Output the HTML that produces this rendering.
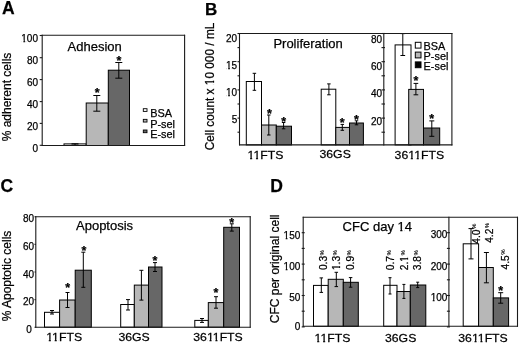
<!DOCTYPE html>
<html><head><meta charset="utf-8"><style>
html,body{margin:0;padding:0;background:#fff;overflow:hidden;}
svg{display:block;}
text{font-family:"Liberation Sans",sans-serif;fill:#000;stroke:#000;stroke-width:0.25px;}
</style></head><body>
<svg width="520" height="344" viewBox="0 0 520 344">
<rect width="520" height="344" fill="#fff"/>
<g opacity="0.999">
<text x="2.0" y="13.9" font-size="17.5" text-anchor="start" font-weight="bold" >A</text>
<text x="205.0" y="14.7" font-size="17" text-anchor="start" font-weight="bold" >B</text>
<text x="0.6" y="191.8" font-size="17.5" text-anchor="start" font-weight="bold" >C</text>
<text x="270.2" y="191.7" font-size="17.5" text-anchor="start" font-weight="bold" >D</text>
<rect x="64" y="143.9" width="22.20" height="1.60" fill="#ffffff" stroke="#000000" stroke-width="1.0"/>
<line x1="75" y1="143.8" x2="75" y2="145.2" stroke="#000000" stroke-width="1.0"/>
<line x1="71.5" y1="143.8" x2="78.5" y2="143.8" stroke="#000000" stroke-width="1.0"/>
<line x1="71.5" y1="145.2" x2="78.5" y2="145.2" stroke="#000000" stroke-width="1.0"/>
<rect x="86.2" y="103" width="22.10" height="42.50" fill="#b7b7b7" stroke="#000000" stroke-width="1.0"/>
<line x1="96.8" y1="95.5" x2="96.8" y2="111.2" stroke="#000000" stroke-width="1.0"/>
<line x1="93.3" y1="95.5" x2="100.3" y2="95.5" stroke="#000000" stroke-width="1.0"/>
<line x1="93.3" y1="111.2" x2="100.3" y2="111.2" stroke="#000000" stroke-width="1.0"/>
<text x="97.3" y="97.4125" font-size="12.5" text-anchor="middle" font-weight="bold" >*</text>
<rect x="108.3" y="70.2" width="21.20" height="75.30" fill="#676767" stroke="#000000" stroke-width="1.0"/>
<line x1="118.8" y1="62.5" x2="118.8" y2="78.2" stroke="#000000" stroke-width="1.0"/>
<line x1="115.3" y1="62.5" x2="122.3" y2="62.5" stroke="#000000" stroke-width="1.0"/>
<line x1="115.3" y1="78.2" x2="122.3" y2="78.2" stroke="#000000" stroke-width="1.0"/>
<text x="118.9" y="64.9125" font-size="12.5" text-anchor="middle" font-weight="bold" >*</text>
<line x1="42.2" y1="34.7" x2="42.2" y2="146.0" stroke="#1a1a1a" stroke-width="1.1"/>
<line x1="41.7" y1="35.2" x2="185.1" y2="35.2" stroke="#1a1a1a" stroke-width="1.1"/>
<line x1="184.6" y1="34.7" x2="184.6" y2="146.0" stroke="#1a1a1a" stroke-width="1.1"/>
<line x1="41.7" y1="145.5" x2="185.1" y2="145.5" stroke="#1a1a1a" stroke-width="1.1"/>
<line x1="39.7" y1="35.5" x2="42.2" y2="35.5" stroke="#1a1a1a" stroke-width="1.1"/>
<text x="38.0" y="41.8" font-size="10" text-anchor="end" font-weight="normal" >100</text>
<rect x="21.59" y="39.75" width="1.73" height="3.45" fill="#fff"/>
<rect x="25.21" y="39.75" width="1.65" height="3.45" fill="#fff"/>
<line x1="39.7" y1="57.7" x2="42.2" y2="57.7" stroke="#1a1a1a" stroke-width="1.1"/>
<text x="38.0" y="63.9" font-size="10" text-anchor="end" font-weight="normal" >80</text>
<line x1="39.7" y1="79.6" x2="42.2" y2="79.6" stroke="#1a1a1a" stroke-width="1.1"/>
<text x="38.0" y="86.0" font-size="10" text-anchor="end" font-weight="normal" >60</text>
<line x1="39.7" y1="101.6" x2="42.2" y2="101.6" stroke="#1a1a1a" stroke-width="1.1"/>
<text x="38.0" y="108.10000000000001" font-size="10" text-anchor="end" font-weight="normal" >40</text>
<line x1="39.7" y1="123.4" x2="42.2" y2="123.4" stroke="#1a1a1a" stroke-width="1.1"/>
<text x="38.0" y="130.2" font-size="10" text-anchor="end" font-weight="normal" >20</text>
<line x1="39.7" y1="145.3" x2="42.2" y2="145.3" stroke="#1a1a1a" stroke-width="1.1"/>
<text x="38.0" y="152.3" font-size="10" text-anchor="end" font-weight="normal" >0</text>
<text x="67.6" y="51.1" font-size="13" text-anchor="start" font-weight="normal" >Adhesion</text>
<rect x="143.3" y="108.7" width="3.70" height="2.70" fill="#ffffff" stroke="#000000" stroke-width="0.9"/>
<text x="150.2" y="117.0" font-size="10.9" text-anchor="start" font-weight="normal" >BSA</text>
<rect x="143.3" y="119.35000000000001" width="3.70" height="2.70" fill="#b7b7b7" stroke="#000000" stroke-width="0.9"/>
<text x="150.2" y="127.65" font-size="10.9" text-anchor="start" font-weight="normal" >P-sel</text>
<rect x="143.3" y="130.0" width="3.70" height="2.70" fill="#676767" stroke="#000000" stroke-width="0.9"/>
<text x="150.2" y="138.3" font-size="10.9" text-anchor="start" font-weight="normal" >E-sel</text>
<text x="0" y="0" font-size="12" text-anchor="middle"  transform="translate(11.0 97.0) rotate(-90)">% adherent cells</text>
<rect x="246.3" y="81.5" width="15.20" height="63.40" fill="#ffffff" stroke="#000000" stroke-width="1.0"/>
<line x1="254.4" y1="73.3" x2="254.4" y2="90.3" stroke="#000000" stroke-width="1.0"/>
<line x1="252.65" y1="73.3" x2="256.15" y2="73.3" stroke="#000000" stroke-width="1.0"/>
<line x1="252.65" y1="90.3" x2="256.15" y2="90.3" stroke="#000000" stroke-width="1.0"/>
<rect x="261.5" y="125" width="14.80" height="19.90" fill="#b7b7b7" stroke="#000000" stroke-width="1.0"/>
<line x1="268.8" y1="115" x2="268.8" y2="135" stroke="#000000" stroke-width="1.0"/>
<line x1="267.05" y1="115" x2="270.55" y2="115" stroke="#000000" stroke-width="1.0"/>
<line x1="267.05" y1="135" x2="270.55" y2="135" stroke="#000000" stroke-width="1.0"/>
<text x="269.4" y="118.2125" font-size="12.5" text-anchor="middle" font-weight="bold" >*</text>
<rect x="276.3" y="126.2" width="15.20" height="18.70" fill="#676767" stroke="#000000" stroke-width="1.0"/>
<line x1="283.6" y1="122.5" x2="283.6" y2="128.8" stroke="#000000" stroke-width="1.0"/>
<line x1="281.85" y1="122.5" x2="285.35" y2="122.5" stroke="#000000" stroke-width="1.0"/>
<line x1="281.85" y1="128.8" x2="285.35" y2="128.8" stroke="#000000" stroke-width="1.0"/>
<text x="283.8" y="126.3125" font-size="12.5" text-anchor="middle" font-weight="bold" >*</text>
<rect x="321.2" y="89.2" width="14.60" height="55.70" fill="#ffffff" stroke="#000000" stroke-width="1.0"/>
<line x1="328.9" y1="83.9" x2="328.9" y2="94.8" stroke="#000000" stroke-width="1.0"/>
<line x1="327.15" y1="83.9" x2="330.65" y2="83.9" stroke="#000000" stroke-width="1.0"/>
<line x1="327.15" y1="94.8" x2="330.65" y2="94.8" stroke="#000000" stroke-width="1.0"/>
<rect x="335.8" y="127.4" width="13.70" height="17.50" fill="#b7b7b7" stroke="#000000" stroke-width="1.0"/>
<line x1="342.3" y1="124.4" x2="342.3" y2="130.3" stroke="#000000" stroke-width="1.0"/>
<line x1="340.55" y1="124.4" x2="344.05" y2="124.4" stroke="#000000" stroke-width="1.0"/>
<line x1="340.55" y1="130.3" x2="344.05" y2="130.3" stroke="#000000" stroke-width="1.0"/>
<text x="342.1" y="126.5125" font-size="12.5" text-anchor="middle" font-weight="bold" >*</text>
<rect x="349.5" y="123" width="13.90" height="21.90" fill="#676767" stroke="#000000" stroke-width="1.0"/>
<line x1="356.5" y1="120.8" x2="356.5" y2="124.8" stroke="#000000" stroke-width="1.0"/>
<line x1="354.75" y1="120.8" x2="358.25" y2="120.8" stroke="#000000" stroke-width="1.0"/>
<line x1="354.75" y1="124.8" x2="358.25" y2="124.8" stroke="#000000" stroke-width="1.0"/>
<text x="356.5" y="124.0125" font-size="12.5" text-anchor="middle" font-weight="bold" >*</text>
<rect x="395.1" y="44.9" width="15.90" height="100.00" fill="#ffffff" stroke="#000000" stroke-width="1.0"/>
<line x1="402.8" y1="33.6" x2="402.8" y2="55.5" stroke="#000000" stroke-width="1.0"/>
<line x1="400.45" y1="33.6" x2="405.15000000000003" y2="33.6" stroke="#000000" stroke-width="1.0"/>
<line x1="400.45" y1="55.5" x2="405.15000000000003" y2="55.5" stroke="#000000" stroke-width="1.0"/>
<rect x="408.7" y="89.4" width="14.80" height="55.50" fill="#b7b7b7" stroke="#000000" stroke-width="1.0"/>
<line x1="415.9" y1="83.4" x2="415.9" y2="94.8" stroke="#000000" stroke-width="1.0"/>
<line x1="413.54999999999995" y1="83.4" x2="418.25" y2="83.4" stroke="#000000" stroke-width="1.0"/>
<line x1="413.54999999999995" y1="94.8" x2="418.25" y2="94.8" stroke="#000000" stroke-width="1.0"/>
<text x="415.9" y="85.4125" font-size="12.5" text-anchor="middle" font-weight="bold" >*</text>
<rect x="423.5" y="128" width="16.20" height="16.90" fill="#676767" stroke="#000000" stroke-width="1.0"/>
<line x1="431.8" y1="120.9" x2="431.8" y2="136.3" stroke="#000000" stroke-width="1.0"/>
<line x1="429.3" y1="120.9" x2="434.3" y2="120.9" stroke="#000000" stroke-width="1.0"/>
<line x1="429.3" y1="136.3" x2="434.3" y2="136.3" stroke="#000000" stroke-width="1.0"/>
<text x="431.8" y="122.6125" font-size="12.5" text-anchor="middle" font-weight="bold" >*</text>
<line x1="239.5" y1="33.0" x2="239.5" y2="145.4" stroke="#1a1a1a" stroke-width="1.1"/>
<line x1="239.0" y1="33.5" x2="452.4" y2="33.5" stroke="#1a1a1a" stroke-width="1.1"/>
<line x1="451.9" y1="33.0" x2="451.9" y2="145.4" stroke="#1a1a1a" stroke-width="1.1"/>
<line x1="239.0" y1="144.9" x2="452.4" y2="144.9" stroke="#1a1a1a" stroke-width="1.1"/>
<line x1="383.8" y1="33.0" x2="383.8" y2="145.4" stroke="#1a1a1a" stroke-width="1.1"/>
<line x1="237.5" y1="33.5" x2="239.5" y2="33.5" stroke="#1a1a1a" stroke-width="1.1"/>
<line x1="381.5" y1="33.5" x2="385.0" y2="33.5" stroke="#1a1a1a" stroke-width="1.1"/>
<line x1="237.5" y1="47.6" x2="239.5" y2="47.6" stroke="#1a1a1a" stroke-width="1.1"/>
<line x1="381.5" y1="47.6" x2="385.0" y2="47.6" stroke="#1a1a1a" stroke-width="1.1"/>
<line x1="237.5" y1="61.7" x2="239.5" y2="61.7" stroke="#1a1a1a" stroke-width="1.1"/>
<line x1="381.5" y1="61.7" x2="385.0" y2="61.7" stroke="#1a1a1a" stroke-width="1.1"/>
<line x1="237.5" y1="75.8" x2="239.5" y2="75.8" stroke="#1a1a1a" stroke-width="1.1"/>
<line x1="381.5" y1="75.8" x2="385.0" y2="75.8" stroke="#1a1a1a" stroke-width="1.1"/>
<line x1="237.5" y1="89.9" x2="239.5" y2="89.9" stroke="#1a1a1a" stroke-width="1.1"/>
<line x1="381.5" y1="89.9" x2="385.0" y2="89.9" stroke="#1a1a1a" stroke-width="1.1"/>
<line x1="237.5" y1="104.0" x2="239.5" y2="104.0" stroke="#1a1a1a" stroke-width="1.1"/>
<line x1="381.5" y1="104.0" x2="385.0" y2="104.0" stroke="#1a1a1a" stroke-width="1.1"/>
<line x1="237.5" y1="118.1" x2="239.5" y2="118.1" stroke="#1a1a1a" stroke-width="1.1"/>
<line x1="381.5" y1="118.1" x2="385.0" y2="118.1" stroke="#1a1a1a" stroke-width="1.1"/>
<line x1="237.5" y1="132.2" x2="239.5" y2="132.2" stroke="#1a1a1a" stroke-width="1.1"/>
<line x1="381.5" y1="132.2" x2="385.0" y2="132.2" stroke="#1a1a1a" stroke-width="1.1"/>
<text x="237.2" y="42.0" font-size="10" text-anchor="end" font-weight="normal" >20</text>
<text x="237.2" y="68.6" font-size="10" text-anchor="end" font-weight="normal" >15</text>
<rect x="226.36" y="66.55" width="1.73" height="3.45" fill="#fff"/>
<rect x="229.97" y="66.55" width="1.65" height="3.45" fill="#fff"/>
<text x="237.2" y="95.8" font-size="10" text-anchor="end" font-weight="normal" >10</text>
<rect x="226.36" y="93.75" width="1.73" height="3.45" fill="#fff"/>
<rect x="229.97" y="93.75" width="1.65" height="3.45" fill="#fff"/>
<text x="237.2" y="122.6" font-size="10" text-anchor="end" font-weight="normal" >5</text>
<text x="382.0" y="42.8" font-size="10" text-anchor="end" font-weight="normal" >80</text>
<text x="382.0" y="69.7" font-size="10" text-anchor="end" font-weight="normal" >60</text>
<text x="382.0" y="96.8" font-size="10" text-anchor="end" font-weight="normal" >40</text>
<text x="382.0" y="124.7" font-size="10" text-anchor="end" font-weight="normal" >20</text>
<text x="273.4" y="47.9" font-size="13" text-anchor="start" font-weight="normal" >Proliferation</text>
<text x="0" y="0" font-size="11.8" transform="translate(247.5 159.0) scale(1.04 1)">11FTS</text>
<rect x="0.41" y="-2.18" width="2.05" height="3.58" fill="#fff" transform="translate(247.5 159.0) scale(1.04 1)"/>
<rect x="4.51" y="-2.18" width="1.96" height="3.58" fill="#fff" transform="translate(247.5 159.0) scale(1.04 1)"/>
<rect x="6.08" y="-2.18" width="2.05" height="3.58" fill="#fff" transform="translate(247.5 159.0) scale(1.04 1)"/>
<rect x="10.18" y="-2.18" width="1.96" height="3.58" fill="#fff" transform="translate(247.5 159.0) scale(1.04 1)"/>
<text x="0" y="0" font-size="11.8" transform="translate(319.5 158.2) scale(1.04 1)">36GS</text>
<text x="0" y="0" font-size="11.8" transform="translate(394.6 159.0) scale(1.04 1)">3611FTS</text>
<rect x="13.51" y="-2.18" width="2.05" height="3.58" fill="#fff" transform="translate(394.6 159.0) scale(1.04 1)"/>
<rect x="17.61" y="-2.18" width="1.96" height="3.58" fill="#fff" transform="translate(394.6 159.0) scale(1.04 1)"/>
<rect x="19.18" y="-2.18" width="2.05" height="3.58" fill="#fff" transform="translate(394.6 159.0) scale(1.04 1)"/>
<rect x="23.27" y="-2.18" width="1.96" height="3.58" fill="#fff" transform="translate(394.6 159.0) scale(1.04 1)"/>
<rect x="415.3" y="42.3" width="5.70" height="5.80" fill="#ffffff" stroke="#000000" stroke-width="1.0"/>
<text x="423.6" y="50.4" font-size="10.9" text-anchor="start" font-weight="normal" >BSA</text>
<rect x="415.3" y="52.099999999999994" width="5.70" height="5.80" fill="#b7b7b7" stroke="#000000" stroke-width="1.0"/>
<text x="423.6" y="60.099999999999994" font-size="10.9" text-anchor="start" font-weight="normal" >P-sel</text>
<rect x="415.3" y="61.9" width="5.70" height="5.80" fill="#000000" stroke="#000000" stroke-width="1.0"/>
<text x="423.6" y="69.8" font-size="10.9" text-anchor="start" font-weight="normal" >E-sel</text>
<text x="0" y="0" font-size="11.85" text-anchor="middle"  transform="translate(214.4 86.5) rotate(-90)">Cell count x 10 000 / mL</text>
<rect x="1.71" y="-2.19" width="2.06" height="3.59" fill="#fff" transform="translate(214.4 86.5) rotate(-90)"/>
<rect x="5.82" y="-2.19" width="1.97" height="3.59" fill="#fff" transform="translate(214.4 86.5) rotate(-90)"/>
<rect x="44.5" y="312.3" width="15.10" height="14.90" fill="#ffffff" stroke="#000000" stroke-width="1.0"/>
<line x1="52.0" y1="310.5" x2="52.0" y2="314.0" stroke="#000000" stroke-width="1.0"/>
<line x1="50.0" y1="310.5" x2="54.0" y2="310.5" stroke="#000000" stroke-width="1.0"/>
<line x1="50.0" y1="314.0" x2="54.0" y2="314.0" stroke="#000000" stroke-width="1.0"/>
<rect x="59.6" y="300" width="15.60" height="27.20" fill="#b7b7b7" stroke="#000000" stroke-width="1.0"/>
<line x1="67.5" y1="292.5" x2="67.5" y2="307.5" stroke="#000000" stroke-width="1.0"/>
<line x1="65.5" y1="292.5" x2="69.5" y2="292.5" stroke="#000000" stroke-width="1.0"/>
<line x1="65.5" y1="307.5" x2="69.5" y2="307.5" stroke="#000000" stroke-width="1.0"/>
<text x="67.7" y="292.2125" font-size="12.5" text-anchor="middle" font-weight="bold" >*</text>
<rect x="75.2" y="270.2" width="16.10" height="57.00" fill="#676767" stroke="#000000" stroke-width="1.0"/>
<line x1="83.3" y1="252.2" x2="83.3" y2="287.3" stroke="#000000" stroke-width="1.0"/>
<line x1="81.3" y1="252.2" x2="85.3" y2="252.2" stroke="#000000" stroke-width="1.0"/>
<line x1="81.3" y1="287.3" x2="85.3" y2="287.3" stroke="#000000" stroke-width="1.0"/>
<text x="84.0" y="255.4125" font-size="12.5" text-anchor="middle" font-weight="bold" >*</text>
<rect x="120.7" y="304.5" width="13.60" height="22.70" fill="#ffffff" stroke="#000000" stroke-width="1.0"/>
<line x1="128.0" y1="299.6" x2="128.0" y2="310" stroke="#000000" stroke-width="1.0"/>
<line x1="126.0" y1="299.6" x2="130.0" y2="299.6" stroke="#000000" stroke-width="1.0"/>
<line x1="126.0" y1="310" x2="130.0" y2="310" stroke="#000000" stroke-width="1.0"/>
<rect x="134.3" y="285.1" width="14.20" height="42.10" fill="#b7b7b7" stroke="#000000" stroke-width="1.0"/>
<line x1="141.4" y1="270.3" x2="141.4" y2="300.1" stroke="#000000" stroke-width="1.0"/>
<line x1="139.4" y1="270.3" x2="143.4" y2="270.3" stroke="#000000" stroke-width="1.0"/>
<line x1="139.4" y1="300.1" x2="143.4" y2="300.1" stroke="#000000" stroke-width="1.0"/>
<rect x="148.5" y="267" width="13.50" height="60.20" fill="#676767" stroke="#000000" stroke-width="1.0"/>
<line x1="155.0" y1="262.6" x2="155.0" y2="271.5" stroke="#000000" stroke-width="1.0"/>
<line x1="153.0" y1="262.6" x2="157.0" y2="262.6" stroke="#000000" stroke-width="1.0"/>
<line x1="153.0" y1="271.5" x2="157.0" y2="271.5" stroke="#000000" stroke-width="1.0"/>
<text x="155.0" y="265.0125" font-size="12.5" text-anchor="middle" font-weight="bold" >*</text>
<rect x="194.8" y="320.4" width="13.50" height="6.80" fill="#ffffff" stroke="#000000" stroke-width="1.0"/>
<line x1="202.0" y1="318.5" x2="202.0" y2="322.4" stroke="#000000" stroke-width="1.0"/>
<line x1="200.0" y1="318.5" x2="204.0" y2="318.5" stroke="#000000" stroke-width="1.0"/>
<line x1="200.0" y1="322.4" x2="204.0" y2="322.4" stroke="#000000" stroke-width="1.0"/>
<rect x="208.3" y="302.6" width="15.40" height="24.60" fill="#b7b7b7" stroke="#000000" stroke-width="1.0"/>
<line x1="216.0" y1="296.7" x2="216.0" y2="308.2" stroke="#000000" stroke-width="1.0"/>
<line x1="214.0" y1="296.7" x2="218.0" y2="296.7" stroke="#000000" stroke-width="1.0"/>
<line x1="214.0" y1="308.2" x2="218.0" y2="308.2" stroke="#000000" stroke-width="1.0"/>
<text x="216.0" y="297.1125" font-size="12.5" text-anchor="middle" font-weight="bold" >*</text>
<rect x="223.7" y="227.3" width="15.80" height="99.90" fill="#676767" stroke="#000000" stroke-width="1.0"/>
<line x1="231.8" y1="223.8" x2="231.8" y2="231.1" stroke="#000000" stroke-width="1.0"/>
<line x1="229.8" y1="223.8" x2="233.8" y2="223.8" stroke="#000000" stroke-width="1.0"/>
<line x1="229.8" y1="231.1" x2="233.8" y2="231.1" stroke="#000000" stroke-width="1.0"/>
<text x="231.8" y="226.6125" font-size="12.5" text-anchor="middle" font-weight="bold" >*</text>
<line x1="35.8" y1="216.3" x2="35.8" y2="327.7" stroke="#1a1a1a" stroke-width="1.1"/>
<line x1="35.3" y1="216.8" x2="250.7" y2="216.8" stroke="#1a1a1a" stroke-width="1.1"/>
<line x1="250.2" y1="216.3" x2="250.2" y2="327.7" stroke="#1a1a1a" stroke-width="1.1"/>
<line x1="35.3" y1="327.2" x2="250.7" y2="327.2" stroke="#1a1a1a" stroke-width="1.1"/>
<line x1="34.5" y1="216.8" x2="35.8" y2="216.8" stroke="#1a1a1a" stroke-width="1.1"/>
<text x="34.0" y="222.2" font-size="10" text-anchor="end" font-weight="normal" >80</text>
<line x1="34.5" y1="244.4" x2="35.8" y2="244.4" stroke="#1a1a1a" stroke-width="1.1"/>
<text x="34.0" y="249.95" font-size="10" text-anchor="end" font-weight="normal" >60</text>
<line x1="34.5" y1="272.0" x2="35.8" y2="272.0" stroke="#1a1a1a" stroke-width="1.1"/>
<text x="34.0" y="277.7" font-size="10" text-anchor="end" font-weight="normal" >40</text>
<line x1="34.5" y1="299.6" x2="35.8" y2="299.6" stroke="#1a1a1a" stroke-width="1.1"/>
<text x="34.0" y="305.45" font-size="10" text-anchor="end" font-weight="normal" >20</text>
<line x1="34.5" y1="327.20000000000005" x2="35.8" y2="327.20000000000005" stroke="#1a1a1a" stroke-width="1.1"/>
<text x="31.7" y="333.2" font-size="10" text-anchor="end" font-weight="normal" >0</text>
<text x="76.0" y="230.3" font-size="13" text-anchor="start" font-weight="normal" >Apoptosis</text>
<text x="0" y="0" font-size="11.8" transform="translate(46.2 341.3) scale(1.04 1)">11FTS</text>
<rect x="0.41" y="-2.18" width="2.05" height="3.58" fill="#fff" transform="translate(46.2 341.3) scale(1.04 1)"/>
<rect x="4.51" y="-2.18" width="1.96" height="3.58" fill="#fff" transform="translate(46.2 341.3) scale(1.04 1)"/>
<rect x="6.08" y="-2.18" width="2.05" height="3.58" fill="#fff" transform="translate(46.2 341.3) scale(1.04 1)"/>
<rect x="10.18" y="-2.18" width="1.96" height="3.58" fill="#fff" transform="translate(46.2 341.3) scale(1.04 1)"/>
<text x="0" y="0" font-size="11.8" transform="translate(118.4 341.3) scale(1.04 1)">36GS</text>
<text x="0" y="0" font-size="11.8" transform="translate(193.3 341.3) scale(1.04 1)">3611FTS</text>
<rect x="13.51" y="-2.18" width="2.05" height="3.58" fill="#fff" transform="translate(193.3 341.3) scale(1.04 1)"/>
<rect x="17.61" y="-2.18" width="1.96" height="3.58" fill="#fff" transform="translate(193.3 341.3) scale(1.04 1)"/>
<rect x="19.18" y="-2.18" width="2.05" height="3.58" fill="#fff" transform="translate(193.3 341.3) scale(1.04 1)"/>
<rect x="23.27" y="-2.18" width="1.96" height="3.58" fill="#fff" transform="translate(193.3 341.3) scale(1.04 1)"/>
<text x="0" y="0" font-size="12" text-anchor="middle"  transform="translate(11.2 276.0) rotate(-90)">% Apoptotic cells</text>
<rect x="313.5" y="285.4" width="14.70" height="40.90" fill="#ffffff" stroke="#000000" stroke-width="1.0"/>
<line x1="321.3" y1="277.9" x2="321.3" y2="292.4" stroke="#000000" stroke-width="1.0"/>
<line x1="319.55" y1="277.9" x2="323.05" y2="277.9" stroke="#000000" stroke-width="1.0"/>
<line x1="319.55" y1="292.4" x2="323.05" y2="292.4" stroke="#000000" stroke-width="1.0"/>
<rect x="328.2" y="279.3" width="15.10" height="47.00" fill="#b7b7b7" stroke="#000000" stroke-width="1.0"/>
<line x1="336.3" y1="272.3" x2="336.3" y2="286.6" stroke="#000000" stroke-width="1.0"/>
<line x1="334.55" y1="272.3" x2="338.05" y2="272.3" stroke="#000000" stroke-width="1.0"/>
<line x1="334.55" y1="286.6" x2="338.05" y2="286.6" stroke="#000000" stroke-width="1.0"/>
<rect x="343.3" y="282.3" width="15.00" height="44.00" fill="#676767" stroke="#000000" stroke-width="1.0"/>
<line x1="350.6" y1="277.6" x2="350.6" y2="287.2" stroke="#000000" stroke-width="1.0"/>
<line x1="348.85" y1="277.6" x2="352.35" y2="277.6" stroke="#000000" stroke-width="1.0"/>
<line x1="348.85" y1="287.2" x2="352.35" y2="287.2" stroke="#000000" stroke-width="1.0"/>
<rect x="383.7" y="285.3" width="13.30" height="41.00" fill="#ffffff" stroke="#000000" stroke-width="1.0"/>
<line x1="390.0" y1="277.7" x2="390.0" y2="294.0" stroke="#000000" stroke-width="1.0"/>
<line x1="388.5" y1="277.7" x2="391.5" y2="277.7" stroke="#000000" stroke-width="1.0"/>
<line x1="388.5" y1="294.0" x2="391.5" y2="294.0" stroke="#000000" stroke-width="1.0"/>
<rect x="397.0" y="291.5" width="13.30" height="34.80" fill="#b7b7b7" stroke="#000000" stroke-width="1.0"/>
<line x1="403.9" y1="284.4" x2="403.9" y2="298.4" stroke="#000000" stroke-width="1.0"/>
<line x1="402.4" y1="284.4" x2="405.4" y2="284.4" stroke="#000000" stroke-width="1.0"/>
<line x1="402.4" y1="298.4" x2="405.4" y2="298.4" stroke="#000000" stroke-width="1.0"/>
<rect x="410.3" y="285.0" width="15.50" height="41.30" fill="#676767" stroke="#000000" stroke-width="1.0"/>
<line x1="417.7" y1="282.2" x2="417.7" y2="287.6" stroke="#000000" stroke-width="1.0"/>
<line x1="416.2" y1="282.2" x2="419.2" y2="282.2" stroke="#000000" stroke-width="1.0"/>
<line x1="416.2" y1="287.6" x2="419.2" y2="287.6" stroke="#000000" stroke-width="1.0"/>
<rect x="463.2" y="243.8" width="15.40" height="82.50" fill="#ffffff" stroke="#000000" stroke-width="1.0"/>
<line x1="471.0" y1="228.6" x2="471.0" y2="258.9" stroke="#000000" stroke-width="1.0"/>
<line x1="468.5" y1="228.6" x2="473.5" y2="228.6" stroke="#000000" stroke-width="1.0"/>
<line x1="468.5" y1="258.9" x2="473.5" y2="258.9" stroke="#000000" stroke-width="1.0"/>
<rect x="478.6" y="267.5" width="14.70" height="58.80" fill="#b7b7b7" stroke="#000000" stroke-width="1.0"/>
<line x1="486.4" y1="252.5" x2="486.4" y2="282.8" stroke="#000000" stroke-width="1.0"/>
<line x1="483.9" y1="252.5" x2="488.9" y2="252.5" stroke="#000000" stroke-width="1.0"/>
<line x1="483.9" y1="282.8" x2="488.9" y2="282.8" stroke="#000000" stroke-width="1.0"/>
<rect x="493.3" y="297.9" width="15.30" height="28.40" fill="#676767" stroke="#000000" stroke-width="1.0"/>
<line x1="500.7" y1="292.7" x2="500.7" y2="303.2" stroke="#000000" stroke-width="1.0"/>
<line x1="498.2" y1="292.7" x2="503.2" y2="292.7" stroke="#000000" stroke-width="1.0"/>
<line x1="498.2" y1="303.2" x2="503.2" y2="303.2" stroke="#000000" stroke-width="1.0"/>
<text x="500.7" y="294.9125" font-size="12.5" text-anchor="middle" font-weight="bold" >*</text>
<line x1="303.2" y1="216.8" x2="303.2" y2="326.8" stroke="#1a1a1a" stroke-width="1.1"/>
<line x1="302.7" y1="217.3" x2="518.0" y2="217.3" stroke="#1a1a1a" stroke-width="1.1"/>
<line x1="517.5" y1="216.8" x2="517.5" y2="326.8" stroke="#1a1a1a" stroke-width="1.1"/>
<line x1="302.7" y1="326.3" x2="518.0" y2="326.3" stroke="#1a1a1a" stroke-width="1.1"/>
<line x1="448.9" y1="216.8" x2="448.9" y2="326.8" stroke="#1a1a1a" stroke-width="1.1"/>
<line x1="301.7" y1="232.7" x2="304.7" y2="232.7" stroke="#1a1a1a" stroke-width="1.1"/>
<line x1="446.9" y1="232.7" x2="449.9" y2="232.7" stroke="#1a1a1a" stroke-width="1.1"/>
<line x1="301.7" y1="248.39999999999998" x2="304.7" y2="248.39999999999998" stroke="#1a1a1a" stroke-width="1.1"/>
<line x1="446.9" y1="248.39999999999998" x2="449.9" y2="248.39999999999998" stroke="#1a1a1a" stroke-width="1.1"/>
<line x1="301.7" y1="264.09999999999997" x2="304.7" y2="264.09999999999997" stroke="#1a1a1a" stroke-width="1.1"/>
<line x1="446.9" y1="264.09999999999997" x2="449.9" y2="264.09999999999997" stroke="#1a1a1a" stroke-width="1.1"/>
<line x1="301.7" y1="279.79999999999995" x2="304.7" y2="279.79999999999995" stroke="#1a1a1a" stroke-width="1.1"/>
<line x1="446.9" y1="279.79999999999995" x2="449.9" y2="279.79999999999995" stroke="#1a1a1a" stroke-width="1.1"/>
<line x1="301.7" y1="295.5" x2="304.7" y2="295.5" stroke="#1a1a1a" stroke-width="1.1"/>
<line x1="446.9" y1="295.5" x2="449.9" y2="295.5" stroke="#1a1a1a" stroke-width="1.1"/>
<line x1="301.7" y1="311.2" x2="304.7" y2="311.2" stroke="#1a1a1a" stroke-width="1.1"/>
<line x1="446.9" y1="311.2" x2="449.9" y2="311.2" stroke="#1a1a1a" stroke-width="1.1"/>
<line x1="301.7" y1="326.9" x2="304.7" y2="326.9" stroke="#1a1a1a" stroke-width="1.1"/>
<line x1="446.9" y1="326.9" x2="449.9" y2="326.9" stroke="#1a1a1a" stroke-width="1.1"/>
<text x="300.3" y="238.9" font-size="10" text-anchor="end" font-weight="normal" >150</text>
<rect x="283.89" y="236.85" width="1.73" height="3.45" fill="#fff"/>
<rect x="287.51" y="236.85" width="1.65" height="3.45" fill="#fff"/>
<text x="300.3" y="269.6" font-size="10" text-anchor="end" font-weight="normal" >100</text>
<rect x="283.89" y="267.55" width="1.73" height="3.45" fill="#fff"/>
<rect x="287.51" y="267.55" width="1.65" height="3.45" fill="#fff"/>
<text x="300.3" y="301.2" font-size="10" text-anchor="end" font-weight="normal" >50</text>
<text x="300.3" y="330.4" font-size="10" text-anchor="end" font-weight="normal" >0</text>
<text x="447.4" y="238.0" font-size="10" text-anchor="end" font-weight="normal" >300</text>
<text x="447.4" y="269.5" font-size="10" text-anchor="end" font-weight="normal" >200</text>
<text x="447.4" y="300.8" font-size="10" text-anchor="end" font-weight="normal" >100</text>
<rect x="430.99" y="298.75" width="1.73" height="3.45" fill="#fff"/>
<rect x="434.61" y="298.75" width="1.65" height="3.45" fill="#fff"/>
<text x="342.6" y="231.2" font-size="13" text-anchor="start" font-weight="normal" >CFC day 14</text>
<rect x="397.99" y="228.93" width="2.27" height="3.67" fill="#fff"/>
<rect x="402.41" y="228.93" width="2.17" height="3.67" fill="#fff"/>
<text x="0" y="0" font-size="11.8" transform="translate(314.6 342.1) scale(1.04 1)">11FTS</text>
<rect x="0.41" y="-2.18" width="2.05" height="3.58" fill="#fff" transform="translate(314.6 342.1) scale(1.04 1)"/>
<rect x="4.51" y="-2.18" width="1.96" height="3.58" fill="#fff" transform="translate(314.6 342.1) scale(1.04 1)"/>
<rect x="6.08" y="-2.18" width="2.05" height="3.58" fill="#fff" transform="translate(314.6 342.1) scale(1.04 1)"/>
<rect x="10.18" y="-2.18" width="1.96" height="3.58" fill="#fff" transform="translate(314.6 342.1) scale(1.04 1)"/>
<text x="0" y="0" font-size="11.8" transform="translate(385.0 342.1) scale(1.04 1)">36GS</text>
<text x="0" y="0" font-size="11.8" transform="translate(458.3 342.1) scale(1.04 1)">3611FTS</text>
<rect x="13.51" y="-2.18" width="2.05" height="3.58" fill="#fff" transform="translate(458.3 342.1) scale(1.04 1)"/>
<rect x="17.61" y="-2.18" width="1.96" height="3.58" fill="#fff" transform="translate(458.3 342.1) scale(1.04 1)"/>
<rect x="19.18" y="-2.18" width="2.05" height="3.58" fill="#fff" transform="translate(458.3 342.1) scale(1.04 1)"/>
<rect x="23.27" y="-2.18" width="1.96" height="3.58" fill="#fff" transform="translate(458.3 342.1) scale(1.04 1)"/>
<text x="0" y="0" font-size="12" text-anchor="middle"  transform="translate(279.4 268.9) rotate(-90)">CFC per original cell</text>
<text x="0" y="0" font-size="10.2" transform="translate(327.3 270.1) rotate(-90)">0.3<tspan font-size="6.2" dx="0.5" dy="-3.2" style="stroke-width:0.1px">%</tspan></text>
<text x="0" y="0" font-size="10.2" transform="translate(339.7 270.1) rotate(-90)">1.3<tspan font-size="6.2" dx="0.5" dy="-3.2" style="stroke-width:0.1px">%</tspan></text>
<rect x="0.30" y="-2.06" width="1.77" height="3.46" fill="#fff" transform="translate(339.7 270.1) rotate(-90)"/>
<rect x="3.97" y="-2.06" width="1.69" height="3.46" fill="#fff" transform="translate(339.7 270.1) rotate(-90)"/>
<text x="0" y="0" font-size="10.2" transform="translate(353.7 270.1) rotate(-90)">0.9<tspan font-size="6.2" dx="0.5" dy="-3.2" style="stroke-width:0.1px">%</tspan></text>
<text x="0" y="0" font-size="10.2" transform="translate(394.2 270.2) rotate(-90)">0.7<tspan font-size="6.2" dx="0.5" dy="-3.2" style="stroke-width:0.1px">%</tspan></text>
<text x="0" y="0" font-size="10.2" transform="translate(407.8 270.2) rotate(-90)">2.1<tspan font-size="6.2" dx="0.5" dy="-3.2" style="stroke-width:0.1px">%</tspan></text>
<rect x="8.78" y="-2.06" width="1.77" height="3.46" fill="#fff" transform="translate(407.8 270.2) rotate(-90)"/>
<rect x="12.45" y="-2.06" width="1.69" height="3.46" fill="#fff" transform="translate(407.8 270.2) rotate(-90)"/>
<text x="0" y="0" font-size="10.2" transform="translate(421.2 270.2) rotate(-90)">3.8<tspan font-size="6.2" dx="0.5" dy="-3.2" style="stroke-width:0.1px">%</tspan></text>
<text x="0" y="0" font-size="10.2" transform="translate(479.6 243.7) rotate(-90)">4.0<tspan font-size="6.2" dx="0.5" dy="-3.2" style="stroke-width:0.1px">%</tspan></text>
<text x="0" y="0" font-size="10.2" transform="translate(492.6 242.8) rotate(-90)">4.2<tspan font-size="6.2" dx="0.5" dy="-3.2" style="stroke-width:0.1px">%</tspan></text>
<text x="0" y="0" font-size="10.2" transform="translate(508.5 269.5) rotate(-90)">4.5<tspan font-size="6.2" dx="0.5" dy="-3.2" style="stroke-width:0.1px">%</tspan></text>
</g>
</svg>
</body></html>
